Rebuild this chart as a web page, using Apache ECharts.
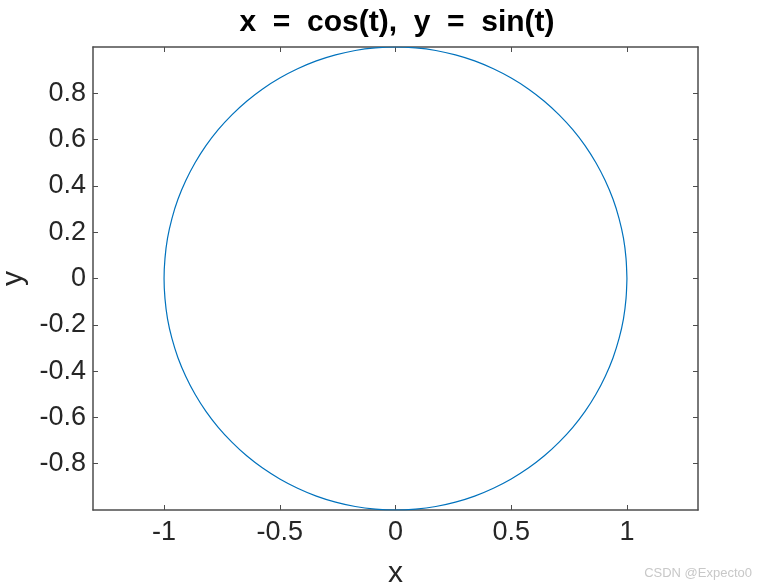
<!DOCTYPE html>
<html><head><meta charset="utf-8">
<script src="https://cdn.jsdelivr.net/npm/echarts@6/dist/echarts.min.js"></script>
<style>html,body{margin:0;padding:0;background:#fff}#c{width:764px;height:584px}</style>
</head><body><div id="c"></div>
<script>
// points (every 5 degrees)
var xs = [1,0.996,0.985,0.966,0.940,0.906,0.866,0.819,0.766,0.707,0.643,0.574,0.5,0.423,0.342,0.259,0.174,0.087,0,
  -0.087,-0.174,-0.259,-0.342,-0.423,-0.5,-0.574,-0.643,-0.707,-0.766,-0.819,-0.866,-0.906,-0.940,-0.966,-0.985,-0.996,-1,
  -0.996,-0.985,-0.966,-0.940,-0.906,-0.866,-0.819,-0.766,-0.707,-0.643,-0.574,-0.5,-0.423,-0.342,-0.259,-0.174,-0.087,0,
  0.087,0.174,0.259,0.342,0.423,0.5,0.574,0.643,0.707,0.766,0.819,0.866,0.906,0.940,0.966,0.985,0.996,1];
var ys = [0,0.087,0.174,0.259,0.342,0.423,0.5,0.574,0.643,0.707,0.766,0.819,0.866,0.906,0.940,0.966,0.985,0.996,1,
  0.996,0.985,0.966,0.940,0.906,0.866,0.819,0.766,0.707,0.643,0.574,0.5,0.423,0.342,0.259,0.174,0.087,0,
  -0.087,-0.174,-0.259,-0.342,-0.423,-0.5,-0.574,-0.643,-0.707,-0.766,-0.819,-0.866,-0.906,-0.940,-0.966,-0.985,-0.996,-1,
  -0.996,-0.985,-0.966,-0.940,-0.906,-0.866,-0.819,-0.766,-0.707,-0.643,-0.574,-0.5,-0.423,-0.342,-0.259,-0.174,-0.087,0];
var xTicks = [-1,-0.5,0,0.5,1];
var yTicks = [-0.8,-0.6,-0.4,-0.2,0,0.2,0.4,0.6,0.8];
var titleText = 'x  =  cos(t),  y  =  sin(t)';

var pts = xs.map(function(v,i){return [v, ys[i]];});
var F = '"Liberation Sans", Arial, sans-serif';
var axCol = '#4d4d4d', txt = '#262626';
function xa(pos, showLabel){
  return {type:'value', position:pos, min:-1.307, max:1.307,
    axisLine:{show:true, onZero:false, lineStyle:{color:axCol, width:1.5}},
    axisTick:{show:true, inside:true, length:5, customValues:xTicks, lineStyle:{color:axCol}},
    axisLabel:{show:showLabel, customValues:xTicks, color:txt, fontSize:27, fontFamily:F, margin:9,
      formatter:function(v){return String(v);}},
    splitLine:{show:false},
    name: showLabel ? 'x' : '', nameLocation:'middle', nameGap:49,
    nameTextStyle:{color:txt, fontSize:30, fontFamily:F}};
}
function ya(pos, showLabel){
  return {type:'value', position:pos, min:-1, max:1,
    axisLine:{show:true, onZero:false, lineStyle:{color:axCol, width:1.5}},
    axisTick:{show:true, inside:true, length:5, customValues:yTicks, lineStyle:{color:axCol}},
    axisLabel:{show:showLabel, customValues:yTicks, color:txt, fontSize:27, fontFamily:F, margin:7,
      formatter:function(v){return String(v);}},
    splitLine:{show:false},
    name: showLabel ? 'y' : '', nameLocation:'middle', nameGap:64,
    nameTextStyle:{color:txt, fontSize:30, fontFamily:F}};
}
var chart = echarts.init(document.getElementById('c'), null, {renderer:'canvas'});
chart.setOption({
  animation:false,
  backgroundColor:'#fff',
  title:[{text:titleText, left:392, textAlign:'center', top:3,
    textStyle:{fontSize:30, fontWeight:'bold', color:'#000', fontFamily:F}},
    {text:'CSDN @Expecto0', right:7, top:562,
    textStyle:{fontSize:13, fontWeight:'normal', color:'#c8c8c8', fontFamily:F}}],
  grid:{left:93, right:66, top:47, bottom:74, containLabel:false, outerBoundsMode:'none'},
  xAxis:[xa('bottom', true), xa('top', false)],
  yAxis:[ya('left', true), ya('right', false)],
  series:[{type:'line', data:pts, showSymbol:false, symbol:'none', smooth:0.3,
    lineStyle:{color:'#0072BD', width:1.2}, xAxisIndex:0, yAxisIndex:0}]
});
</script></body></html>
